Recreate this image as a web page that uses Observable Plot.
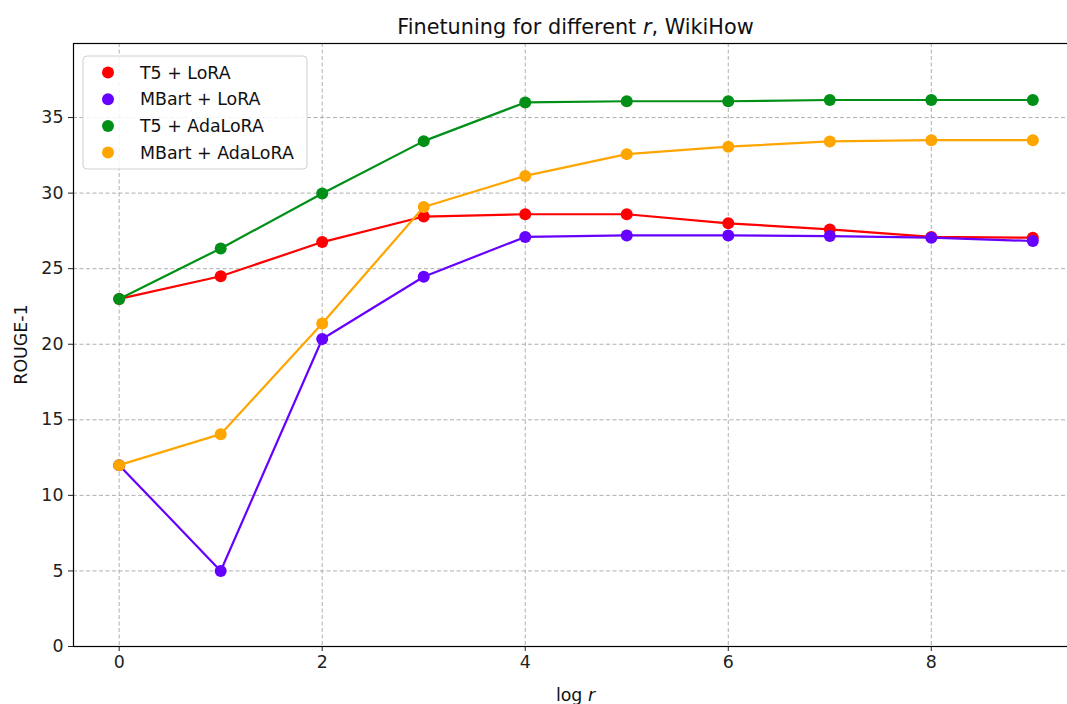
<!DOCTYPE html>
<html>
<head>
<meta charset="utf-8">
<script src="https://cdn.jsdelivr.net/npm/d3@7"></script>
<script src="https://cdn.jsdelivr.net/npm/@observablehq/plot@0.6"></script>
<style>
  html, body { margin: 0; padding: 0; background: #fff; }
  #wrap { width: 1067px; height: 704px; overflow: hidden; position: relative; }
  svg { font-family: "DejaVu Sans", sans-serif; }
</style>
</head>
<body>
<div id="wrap"></div>
<script>
const logR = [0, 1, 2, 3, 4, 5, 6, 7, 8, 9];
const seriesNames = ["T5 + LoRA", "MBart + LoRA", "T5 + AdaLoRA", "MBart + AdaLoRA"];
const seriesColors = ["#ff0000", "#6600ff", "#008f17", "#ffa500"];
const t5Lora     = [23.0, 24.5, 26.76, 28.45, 28.6, 28.6, 28.0, 27.6, 27.1, 27.05];
const mbartLora  = [12.0, 5.0, 20.35, 24.47, 27.1, 27.2, 27.2, 27.16, 27.05, 26.83];
const t5Ada      = [23.0, 26.34, 29.97, 33.44, 36.0, 36.08, 36.08, 36.16, 36.16, 36.16];
const mbartAda   = [12.0, 14.05, 21.37, 29.08, 31.14, 32.58, 33.07, 33.42, 33.5, 33.5];
const xTicks = [0, 2, 4, 6, 8];
const yTicks = [0, 5, 10, 15, 20, 25, 30, 35];

const allSeries = [t5Lora, mbartLora, t5Ada, mbartAda];
const table = [];
allSeries.forEach((vals, si) => {
  vals.forEach((v, i) => table.push({series: seriesNames[si], x: logR[i], y: v, order: si}));
});

const W = 1067, H = 704;
const mL = 73, mT = 43, mB = 58, mR = -11;
const FS = 17.4;

const marks = [
  Plot.gridX(xTicks, {stroke: "#b0b0b0", strokeOpacity: 1, strokeWidth: 1, strokeDasharray: "4,2.5"}),
  Plot.gridY(yTicks, {stroke: "#b0b0b0", strokeOpacity: 1, strokeWidth: 1, strokeDasharray: "4,2.5"}),
  Plot.axisX(xTicks, {tickSize: 5, tickPadding: 4, fontSize: FS, fill: "#222", stroke: "#222", label: null}),
  Plot.axisY(yTicks, {tickSize: 5, tickPadding: 5, fontSize: FS, fill: "#222", stroke: "#222", label: null})
];
seriesNames.forEach((name, si) => {
  const d = table.filter(r => r.series === name);
  marks.push(Plot.line(d, {x: "x", y: "y", stroke: seriesColors[si], strokeWidth: 2.2}));
  marks.push(Plot.dot(d, {x: "x", y: "y", fill: seriesColors[si], r: 6, stroke: "none"}));
});
marks.push(Plot.frame({stroke: "#000", strokeWidth: 1.2}));

const plot = Plot.plot({
  width: W, height: H,
  marginLeft: mL, marginTop: mT, marginBottom: mB, marginRight: mR,
  x: {domain: [-0.45, 9.45]},
  y: {domain: [0, 39.9]},
  style: {fontFamily: "DejaVu Sans, sans-serif", background: "#fff", overflow: "hidden"},
  marks
});
document.getElementById("wrap").appendChild(plot);

const svg = d3.select(plot);
const cx = (mL + (W - mR)) / 2;

// Title
const title = svg.append("text").attr("x", cx).attr("y", 34).attr("text-anchor", "middle")
  .attr("font-size", 20.8).attr("fill", "#111").attr("font-family", "DejaVu Sans, sans-serif");
title.append("tspan").text("Finetuning for different ");
title.append("tspan").attr("font-style", "italic").text("r");
title.append("tspan").text(", WikiHow");

// X label
const xl = svg.append("text").attr("x", cx).attr("y", 701).attr("text-anchor", "middle")
  .attr("font-size", FS).attr("fill", "#111").attr("font-family", "DejaVu Sans, sans-serif");
xl.append("tspan").text("log ");
xl.append("tspan").attr("font-style", "italic").text("r");

// Y label
svg.append("text").attr("transform", `translate(27,${(mT + H - mB) / 2}) rotate(-90)`)
  .attr("text-anchor", "middle").attr("font-size", FS).attr("fill", "#111")
  .attr("font-family", "DejaVu Sans, sans-serif").text("ROUGE-1");

// Legend
const lg = svg.append("g");
lg.append("rect").attr("x", 83).attr("y", 56).attr("width", 224).attr("height", 113)
  .attr("rx", 4).attr("fill", "#fff").attr("fill-opacity", 0.85).attr("stroke", "#d0d0d0");
seriesNames.forEach((name, i) => {
  const yy = 72.5 + i * 26.7;
  lg.append("circle").attr("cx", 108).attr("cy", yy).attr("r", 6).attr("fill", seriesColors[i]);
  lg.append("text").attr("x", 140).attr("y", yy + 6).attr("font-size", FS).attr("fill", "#111")
    .attr("text-anchor", "start")
    .attr("font-family", "DejaVu Sans, sans-serif").text(name);
});
</script>
</body>
</html>
